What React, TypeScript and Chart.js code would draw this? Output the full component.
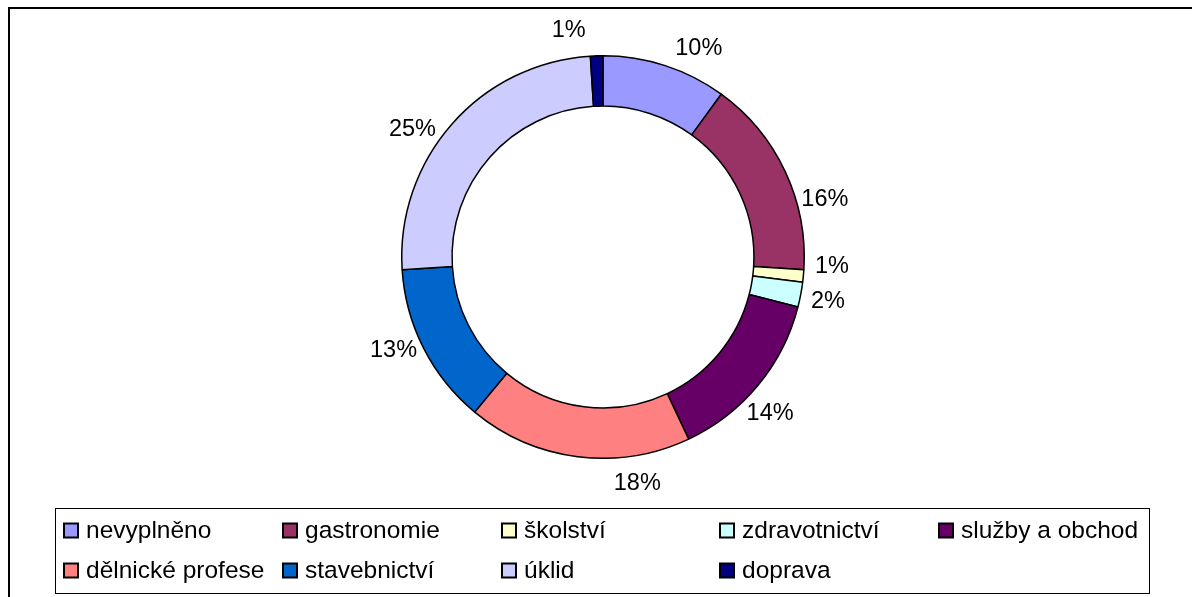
import React, { useEffect, useRef } from "react";
import { Chart, registerables } from "chart.js";

Chart.register(...registerables);

const categories = [
  "nevyplněno",
  "gastronomie",
  "školství",
  "zdravotnictví",
  "služby a obchod",
  "dělnické profese",
  "stavebnictví",
  "úklid",
  "doprava",
];
const shares = [10, 16, 1, 2, 14, 18, 13, 25, 1];
const percentLabels = ["10%", "16%", "1%", "2%", "14%", "18%", "13%", "25%", "1%"];
const sliceColors = [
  "#9999FF",
  "#993366",
  "#FFFFCC",
  "#CCFFFF",
  "#660066",
  "#FF8080",
  "#0066CC",
  "#CCCCFF",
  "#000080",
];
// angular nudges (degrees) for the outside labels, like the original placement
const labelAngleNudge = [6.7, 10.6, -2.9, 0.4, 3.6, -15.8, 3, -7.6, -6.8];

const FONT = '"Liberation Sans", Arial, sans-serif';
const W = 1192;
const H = 597;

const framePlugin = {
  id: "frameAndLegend",
  beforeDraw(chart: any) {
    const ctx = chart.ctx;
    ctx.save();
    ctx.fillStyle = "#fff";
    ctx.fillRect(0, 0, W, H);
    ctx.strokeStyle = "#000";
    ctx.lineWidth = 2;
    ctx.strokeRect(9, 8, W + 20, H + 20);
    ctx.restore();
  },
  afterDraw(chart: any) {
    const ctx = chart.ctx;
    ctx.save();
    // legend box
    ctx.strokeStyle = "#000";
    ctx.lineWidth = 1;
    ctx.strokeRect(55.5, 508.5, 1094, 85);
    ctx.font = `24.5px ${FONT}`;
    ctx.textBaseline = "middle";
    ctx.textAlign = "left";
    const colW = 218.75;
    const rowY = [530.5, 570.5];
    categories.forEach((name, i) => {
      const col = i % 5;
      const row = Math.floor(i / 5);
      const x = Math.round(64 + col * colW);
      const y = rowY[row];
      ctx.fillStyle = sliceColors[i];
      ctx.fillRect(x, y - 7, 14, 14);
      ctx.lineWidth = 2;
      ctx.strokeStyle = "#000";
      ctx.strokeRect(x, y - 7, 14, 14);
      ctx.fillStyle = "#000";
      ctx.fillText(name, x + 22, y + 1);
    });
    ctx.restore();
  },
  afterDatasetsDraw(chart: any) {
    const ctx = chart.ctx;
    const meta = chart.getDatasetMeta(0);
    ctx.save();
    ctx.font = `23.5px ${FONT}`;
    ctx.fillStyle = "#000";
    ctx.textAlign = "center";
    ctx.textBaseline = "middle";
    meta.data.forEach((arc: any, i: number) => {
      const p = arc.getProps(["x", "y", "startAngle", "endAngle", "outerRadius"], true);
      const mid = (p.startAngle + p.endAngle) / 2 + (labelAngleNudge[i] * Math.PI) / 180;
      const r = p.outerRadius + 28;
      ctx.fillText(percentLabels[i], p.x + Math.cos(mid) * r, p.y + Math.sin(mid) * r);
    });
    ctx.restore();
  },
};

export default function App() {
  const ref = useRef<HTMLCanvasElement | null>(null);
  useEffect(() => {
    document.body.style.margin = "0";
    const canvas = ref.current!;
    const chart = new Chart(canvas, {
      type: "doughnut",
      data: {
        labels: categories,
        datasets: [
          {
            data: shares,
            backgroundColor: sliceColors,
            borderColor: "#000",
            borderWidth: 1.5,
          },
        ],
      },
      options: {
        responsive: false,
        animation: false,
        devicePixelRatio: 1,
        cutout: "75%",
        layout: { padding: { left: 401, right: 387, top: 55, bottom: 138 } },
        plugins: {
          legend: { display: false },
          tooltip: { enabled: false },
          title: { display: false },
        },
      },
      plugins: [framePlugin],
    });
    return () => chart.destroy();
  }, []);
  return (
    <div style={{ position: "absolute", left: 0, top: 0, width: W, height: H }}>
      <canvas ref={ref} width={W} height={H} style={{ display: "block", width: W, height: H }} />
    </div>
  );
}
